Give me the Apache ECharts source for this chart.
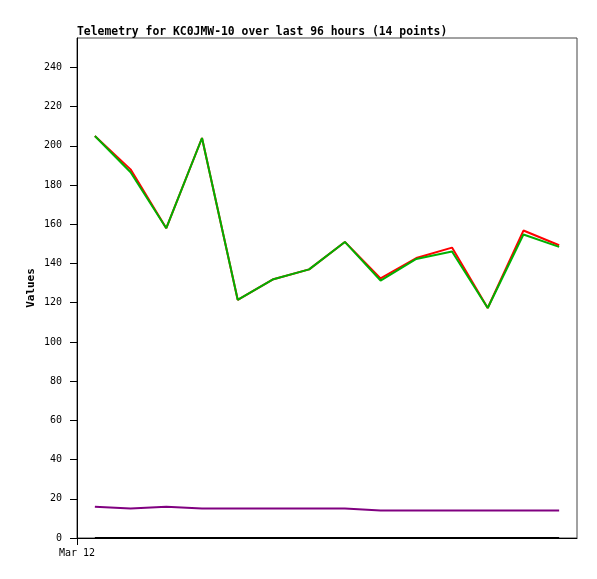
<!DOCTYPE html>
<html>
<head>
<meta charset="utf-8">
<script src="https://cdn.jsdelivr.net/npm/echarts@6/dist/echarts.min.js"></script>
<style>html,body{margin:0;padding:0;background:#fff;}#c{width:597px;height:579px;}</style>
</head>
<body>
<div id="c"></div>
<script>
var titleText = 'Telemetry for KC0JMW-10 over last 96 hours (14 points)';
var pointIndex = [0,1,2,3,4,5,6,7,8,9,10,11,12,13];
var xLabelText = 'Mar 12';
var yTicks = [0,20,40,60,80,100,120,140,160,180,200,220,240];
var seriesBlack = [0,0,0,0,0,0,0,0,0,0,0,0,0,0];
var seriesPurple = [16,15,16,15,15,15,15,15,14,14,14,14,14,14];
var seriesRed = [205,188,158,204,121.5,132,137,151,132.4,142.8,148.1,117.3,156.8,149.3];
var seriesGreen = [205,186.5,158,204,121.5,132,137,151,131.3,142.3,146.1,117.3,154.8,148.5];

function pairs(vals){ return pointIndex.map(function(x,i){ return [x, vals[i]]; }); }
var FONT = 'DejaVu Sans Mono';
var chart = echarts.init(document.getElementById('c'), null, {renderer:'canvas'});
function line(name, vals, color, z){
  return {name:name, type:'line', data:pairs(vals), showSymbol:false, symbol:'none', clip:false, z:z,
    lineStyle:{color:color, width:2}, itemStyle:{color:color}, animation:false};
}
chart.setOption({
  animation:false,
  backgroundColor:'#fff',
  title:{text:titleText, left:77, top:27, padding:0, textStyle:{fontFamily:FONT, fontSize:11.4, fontWeight:'bold', color:'#000'}},
  grid:{left:77, right:20, top:38, bottom:41, show:true, borderColor:'#444', borderWidth:1, backgroundColor:'transparent'},
  xAxis:{type:'value', min:-0.5, max:13.5,
    axisLine:{show:true, onZero:false, lineStyle:{color:'#000', width:1}},
    axisTick:{show:true, length:7, lineStyle:{color:'#000'}, customValues:[-0.5]},
    axisLabel:{show:true, customValues:[-0.5], formatter:function(){return xLabelText;}, margin:10, fontFamily:FONT, fontSize:10, color:'#000'},
    splitLine:{show:false}},
  yAxis:{type:'value', min:0, max:255, name:'Values', nameLocation:'middle', nameGap:40, nameMoveOverlap:false,
    nameTextStyle:{fontFamily:FONT, fontSize:11, fontWeight:'bold', color:'#000'},
    axisLine:{show:true, onZero:false, lineStyle:{color:'#000', width:1}},
    axisTick:{show:true, length:7, lineStyle:{color:'#000'}, customValues:yTicks},
    axisLabel:{customValues:yTicks, margin:15, fontFamily:FONT, fontSize:10, color:'#000'},
    splitLine:{show:false}},
  series:[
    line('black', seriesBlack, '#000000', 10),
    line('purple', seriesPurple, '#800080', 2),
    line('red', seriesRed, '#ff0000', 3),
    line('green', seriesGreen, '#00b000', 4)
  ]
});
</script>
</body>
</html>
